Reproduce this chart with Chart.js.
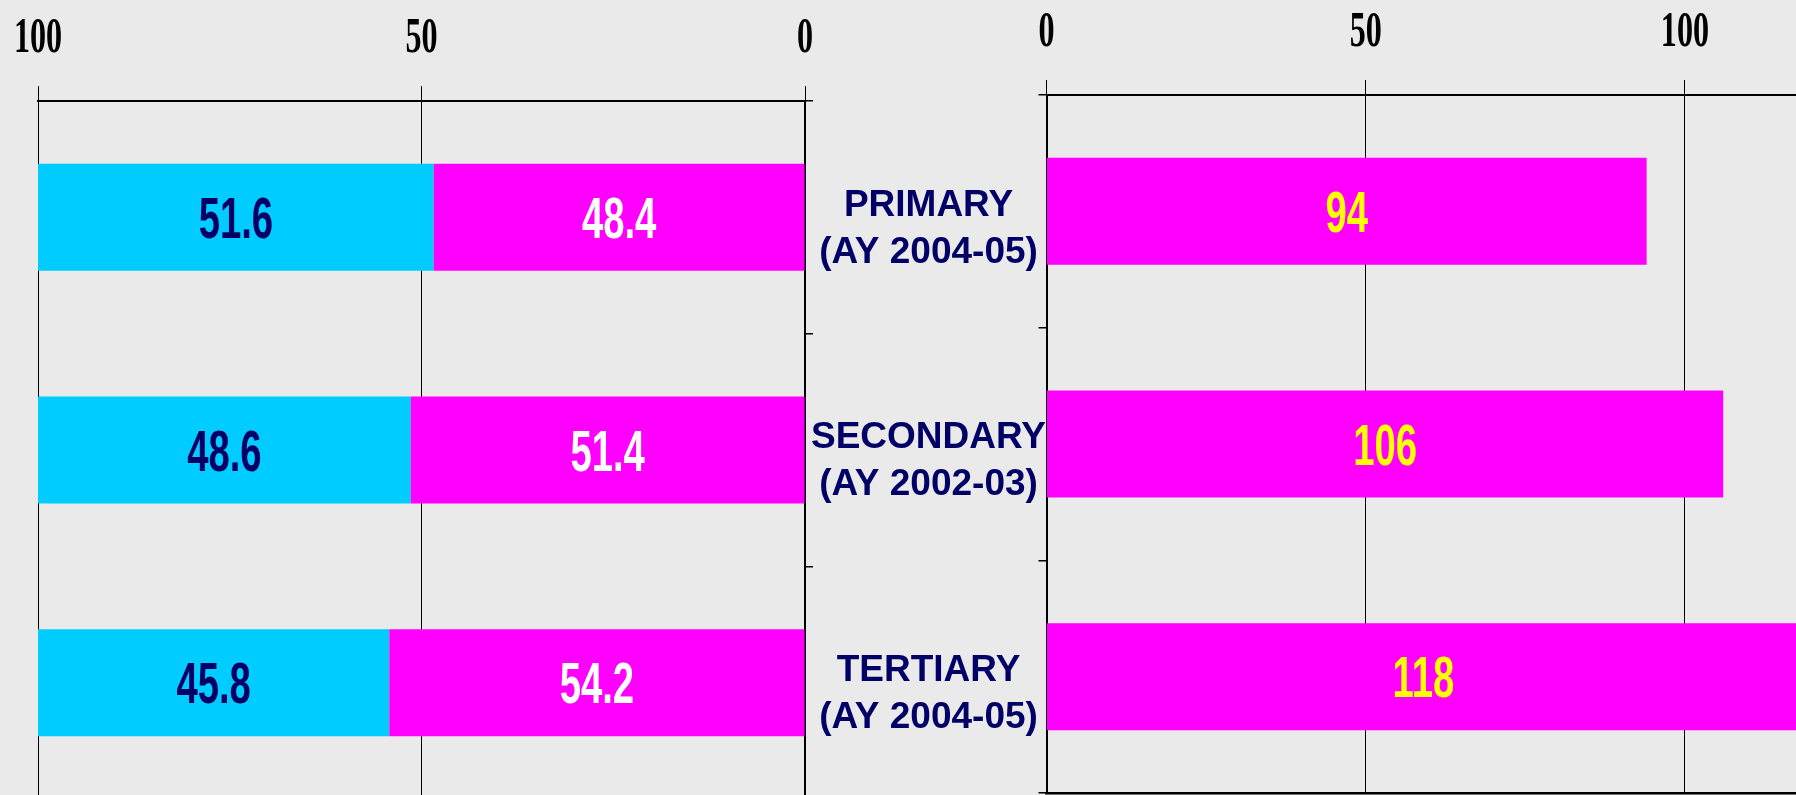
<!DOCTYPE html>
<html><head><meta charset="utf-8">
<script src="https://cdn.jsdelivr.net/npm/chart.js@4/dist/chart.umd.min.js"></script>
<style>
html,body{margin:0;padding:0;background:#EAEAEA;width:1796px;height:795px;overflow:hidden;position:relative}
canvas{position:absolute;top:0}
#left{left:0}
#right{left:800px}
</style></head><body>
<canvas id="left" width="830" height="800"></canvas>
<canvas id="right" width="996" height="795"></canvas>
<script>
// ---- data ----
const levels = [['PRIMARY', '(AY 2004-05)'], ['SECONDARY', '(AY 2002-03)'], ['TERTIARY', '(AY 2004-05)']];
const maleShare = [51.6, 48.6, 45.8];
const femaleShare = [48.4, 51.4, 54.2];
const femalesPer100Males = [94, 106, 118];
const shareTicks = [100, 50, 0];
const ratioTicks = [0, 50, 100];

const CYAN = '#00CCFF', MAGENTA = '#FF00FF', NAVY = '#000066';

function drawCondensed(ctx, text, x, baseline, color, font, sx) {
  ctx.save();
  ctx.translate(x, baseline);
  ctx.scale(sx, 1);
  ctx.font = font;
  ctx.fillStyle = color;
  ctx.textAlign = 'center';
  ctx.textBaseline = 'alphabetic';
  ctx.fillText(text, 0, 0);
  ctx.restore();
}

const VAL_SIZE = 58;
const valueLabels = {
  id: 'valueLabels',
  afterDatasetsDraw(chart) {
    const ctx = chart.ctx;
    chart.data.datasets.forEach((ds, di) => {
      const meta = chart.getDatasetMeta(di);
      meta.data.forEach((el, i) => {
        const p = el.getProps(['x', 'y', 'base'], true);
        const cx = (p.x + p.base) / 2;
        drawCondensed(ctx, String(ds.data[i]), cx, p.y + 0.358 * VAL_SIZE,
          ds.labelColor, 'bold ' + VAL_SIZE + 'px "Liberation Sans", Arial, sans-serif', 0.66);
      });
    });
  }
};

function tickLabelPlugin(values) {
  return {
    id: 'tickLabels',
    afterDraw(chart) {
      const s = chart.scales.x;
      values.forEach(v => drawCondensed(chart.ctx, String(v), s.getPixelForValue(v),
        chart.chartArea.top - 49, '#000000', 'bold 51px "Liberation Serif", "Times New Roman", serif', 0.63));
    }
  };
}

const categoryLabels = {
  id: 'categoryLabels',
  afterDraw(chart) {
    const ctx = chart.ctx, y = chart.scales.y;
    const cx = chart.chartArea.left - 118;
    ctx.save();
    ctx.font = 'bold 37px "Liberation Sans", Arial, sans-serif';
    ctx.fillStyle = NAVY;
    ctx.textAlign = 'center';
    ctx.textBaseline = 'middle';
    levels.forEach((lines, i) => {
      const cy = y.getPixelForValue(i);
      ctx.fillText(lines[0], cx, cy - 6);
      ctx.fillText(lines[1], cx, cy + 41);
    });
    ctx.restore();
  }
};

const catLabels = levels.map(l => l.join(' '));

new Chart(document.getElementById('left'), {
  type: 'bar',
  data: {
    labels: catLabels,
    datasets: [
      { label: 'Female (%)', data: femaleShare, backgroundColor: MAGENTA, labelColor: '#FFFFFF', borderWidth: 0 },
      { label: 'Male (%)', data: maleShare, backgroundColor: CYAN, labelColor: NAVY, borderWidth: 0 }
    ]
  },
  options: {
    indexAxis: 'y',
    responsive: false,
    animation: false,
    devicePixelRatio: 1,
    barPercentage: 0.46,
    categoryPercentage: 1,
    layout: { padding: { left: 38, right: 17, top: 86, bottom: 1 } },
    plugins: { legend: { display: false }, tooltip: { enabled: false } },
    scales: {
      x: {
        type: 'linear', position: 'top', reverse: true, min: 0, max: 100, stacked: true,
        afterBuildTicks: s => { s.ticks = shareTicks.map(v => ({ value: v })); },
        ticks: { display: false },
        grid: { color: '#000000', lineWidth: 1, tickLength: 15, drawTicks: true },
        border: { display: true, color: '#000000', width: 2 }
      },
      y: {
        type: 'category', position: 'right', stacked: true,
        ticks: { display: false },
        grid: { drawOnChartArea: false, drawTicks: true, tickLength: 8, color: '#000000', lineWidth: 1.5 },
        border: { display: true, color: '#000000', width: 2 }
      }
    }
  },
  plugins: [valueLabels, tickLabelPlugin(shareTicks)]
});

new Chart(document.getElementById('right'), {
  type: 'bar',
  data: {
    labels: catLabels,
    datasets: [
      { label: 'Females per 100 males', data: femalesPer100Males, backgroundColor: MAGENTA, labelColor: '#FFFF00', borderWidth: 0 }
    ]
  },
  options: {
    indexAxis: 'y',
    responsive: false,
    animation: false,
    devicePixelRatio: 1,
    barPercentage: 0.46,
    categoryPercentage: 1,
    layout: { padding: { left: 238.5, right: 0, top: 80, bottom: 2 } },
    plugins: { legend: { display: false }, tooltip: { enabled: false } },
    scales: {
      x: {
        type: 'linear', position: 'top', min: 0, max: 117.4,
        afterBuildTicks: s => { s.ticks = ratioTicks.map(v => ({ value: v })); },
        ticks: { display: false },
        grid: { color: '#000000', lineWidth: 1, tickLength: 15, drawTicks: true },
        border: { display: true, color: '#000000', width: 2 }
      },
      x2: {
        type: 'linear', position: 'bottom', min: 0, max: 117.4,
        ticks: { display: false },
        grid: { display: false, drawTicks: false, tickLength: 0 },
        border: { display: true, color: '#000000', width: 2.5 }
      },
      y: {
        type: 'category', position: 'left',
        ticks: { display: false },
        grid: { drawOnChartArea: false, drawTicks: true, tickLength: 8, color: '#000000', lineWidth: 1.5 },
        border: { display: true, color: '#000000', width: 2 }
      }
    }
  },
  plugins: [valueLabels, tickLabelPlugin(ratioTicks), categoryLabels]
});
</script>
</body></html>
